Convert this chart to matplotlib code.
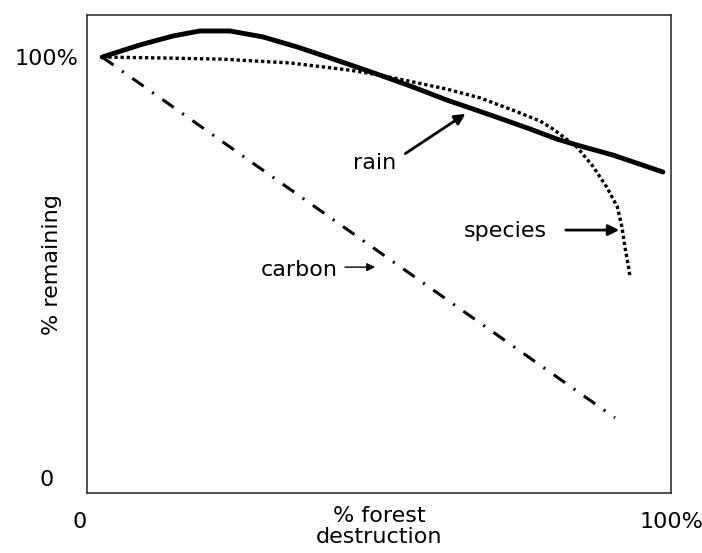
import matplotlib
matplotlib.use("Agg")
import matplotlib.pyplot as plt

plt.rcParams['font.family'] = ['DejaVu Sans']
plt.rcParams['lines.scale_dashes'] = False

# =========================
# data (x = % forest destruction, y = % remaining)
# =========================
rain_x = [2.6, 9.1, 14.7, 19.3, 24.5, 30.1, 36.0, 41.6, 47.3, 50.2, 55.8, 61.6,
          65.6, 70.2, 75.9, 80.5, 84.4, 90.1, 98.6]
rain_y = [100.0, 102.9, 105.0, 106.2, 106.2, 104.8, 102.4, 99.8, 97.1, 95.7, 92.9, 89.8,
          87.9, 85.7, 82.9, 80.5, 78.9, 76.7, 72.7]

species_x = [2.6, 12.5, 23.3, 34.8, 45.0, 50.2, 55.8, 61.6, 67.3, 72.9, 77.6, 79.8,
             81.8, 83.9, 86.6, 89.0, 90.8, 91.6, 92.1, 92.6, 93.0]
species_y = [100.0, 99.8, 99.5, 98.6, 96.9, 95.7, 94.1, 92.4, 90.3, 87.4, 84.8, 82.9,
             80.8, 78.6, 74.1, 69.1, 64.4, 59.6, 54.9, 51.1, 47.7]

carbon_x = [2.6, 90.4]
carbon_y = [100.0, 14.3]

x_ticks = [0, 100]
x_ticklabels = ["0", "100%"]
y_ticks = [0, 100]
y_ticklabels = ["0", "100%"]

# =========================
# figure
# =========================
fig = plt.figure(figsize=(7.02, 5.53), dpi=100)
ax = fig.add_axes([0.1239, 0.1085, 0.832, 0.8644])

ax.plot(rain_x, rain_y, color="black", lw=3.5, solid_capstyle="round", solid_joinstyle="round")
ax.plot(species_x, species_y, color="black", lw=2.4, dashes=(2.4, 2.0))
ax.plot(carbon_x, carbon_y, color="black", lw=2.2, dashes=(10, 7.5, 1.5, 7.5))

ax.set_xlim(0, 100)
ax.set_ylim(-3.56, 110.0)

ax.set_xticks(x_ticks)
ax.set_xticklabels(x_ticklabels, fontsize=16)
ax.set_yticks(y_ticks)
ax.set_yticklabels(y_ticklabels, fontsize=16)
ax.tick_params(axis="x", length=0, pad=14)
ax.tick_params(axis="y", length=0, pad=29)
for lab in ax.get_yticklabels():
    lab.set_horizontalalignment("center")
ax.get_xticklabels()[0].set_horizontalalignment("right")

for sp in ax.spines.values():
    sp.set_linewidth(1.1)
    sp.set_color("#222222")

ax.set_xlabel("% forest\ndestruction", fontsize=16, linespacing=1.05)
ax.xaxis.set_label_coords(0.5, -0.027)
ax.set_ylabel("% remaining", fontsize=16, va="center")
ax.yaxis.set_label_coords(-0.060, 0.477)

# =========================
# labels + arrows
# =========================
ax.text(49.3, 74.8, "rain", fontsize=16, ha="center", va="center")
ax.annotate("", xy=(65.2, 86.9), xytext=(54.1, 76.7),
            arrowprops=dict(arrowstyle="-|>", lw=2.0, color="black", mutation_scale=16))

ax.text(71.6, 58.7, "species", fontsize=16, ha="center", va="center")
ax.annotate("", xy=(91.6, 58.9), xytext=(81.5, 58.9),
            arrowprops=dict(arrowstyle="-|>", lw=2.0, color="black", mutation_scale=16))

ax.text(36.3, 49.4, "carbon", fontsize=16, ha="center", va="center")
ax.annotate("", xy=(49.8, 50.1), xytext=(43.7, 50.1),
            arrowprops=dict(arrowstyle="-|>", lw=1.0, color="black", mutation_scale=12))

fig.savefig("out.png", dpi=100)
